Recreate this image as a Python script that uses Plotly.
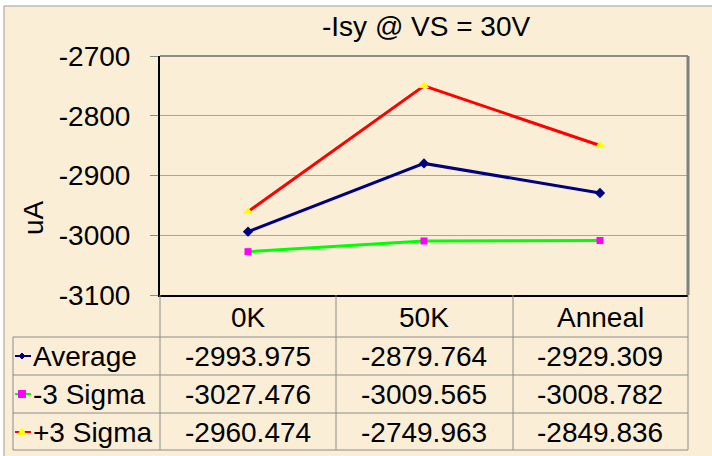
import plotly.graph_objects as go

categories = ["0K", "50K", "Anneal"]
average = [-2993.975, -2879.764, -2929.309]
minus3 = [-3027.476, -3009.565, -3008.782]
plus3 = [-2960.474, -2749.963, -2849.836]
series_names = ["Average", "-3 Sigma", "+3 Sigma"]
y_ticks = [-3100, -3000, -2900, -2800, -2700]

W, H = 712, 456
L, R, T, B = 160, 688, 56, 295
FONT = "Liberation Sans, Arial, sans-serif"
FS = 28


def px2x(x):
    return (x - L) / (R - L)


def px2y(y):
    return (B - y) / (B - T)


fig = go.Figure()
fig.add_trace(go.Scatter(x=categories, y=plus3, mode="lines+markers", name="+3 Sigma",
                         line=dict(color="#FF0000", width=3),
                         marker=dict(symbol="triangle-up", size=9, color="#FFFF00")))
fig.add_trace(go.Scatter(x=categories, y=average, mode="lines+markers", name="Average",
                         line=dict(color="#000080", width=3),
                         marker=dict(symbol="diamond", size=8, color="#000080")))
fig.add_trace(go.Scatter(x=categories, y=minus3, mode="lines+markers", name="-3 Sigma",
                         line=dict(color="#00FF00", width=3),
                         marker=dict(symbol="square", size=7, color="#FF00FF")))

shapes = []
# cream chart background
shapes.append(dict(type="rect", xref="paper", yref="paper", layer="below",
                   x0=px2x(4), x1=px2x(720), y0=px2y(470), y1=px2y(6),
                   fillcolor="#FAEFD6", line=dict(color="#A09A90", width=1)))
# plot border top and right
shapes.append(dict(type="line", xref="paper", yref="paper", x0=0, x1=1, y0=1, y1=1,
                   line=dict(color="#8C8C8C", width=2)))
shapes.append(dict(type="line", xref="paper", yref="paper", x0=1, x1=1, y0=0, y1=1,
                   line=dict(color="#808080", width=3)))
# table lines
gray = "#8C8C8C"
for yy in [337, 375, 413, 450]:
    shapes.append(dict(type="line", xref="paper", yref="paper", x0=px2x(13), x1=px2x(688),
                       y0=px2y(yy), y1=px2y(yy), line=dict(color=gray, width=1)))
for xx in [160, 336, 513, 688]:
    shapes.append(dict(type="line", xref="paper", yref="paper", x0=px2x(xx), x1=px2x(xx),
                       y0=px2y(295), y1=px2y(450), line=dict(color=gray, width=1)))
shapes.append(dict(type="line", xref="paper", yref="paper", x0=px2x(13), x1=px2x(13),
                   y0=px2y(337), y1=px2y(450), line=dict(color=gray, width=1)))

# legend keys in table
rows_y = [356, 394, 432]
key_colors = [("#000080", "#000080", "diamond"), ("#00FF00", "#FF00FF", "square"),
              ("#FF0000", "#FFFF00", "triangle")]
for (lc, mc, sym), yy in zip(key_colors, rows_y):
    shapes.append(dict(type="line", xref="paper", yref="paper", x0=px2x(15), x1=px2x(31),
                       y0=px2y(yy), y1=px2y(yy), line=dict(color=lc, width=2)))
    cx = 22
    if sym == "diamond":
        pts = [(cx, yy - 3), (cx + 3, yy), (cx, yy + 3), (cx - 3, yy)]
    elif sym == "square":
        pts = [(cx - 3.5, yy - 3.5), (cx + 3.5, yy - 3.5), (cx + 3.5, yy + 3.5), (cx - 3.5, yy + 3.5)]
    else:
        pts = [(cx, yy - 4), (cx + 4, yy + 2.5), (cx - 4, yy + 2.5)]
    path = "M " + " L ".join(f"{px2x(a):.5f},{px2y(b):.5f}" for a, b in pts) + " Z"
    shapes.append(dict(type="path", xref="paper", yref="paper", path=path,
                       fillcolor=mc, line=dict(color=mc, width=1)))

annotations = []
annotations.append(dict(text="-Isy @ VS = 30V", xref="paper", yref="paper", x=px2x(426), y=px2y(27),
                        showarrow=False, xanchor="center", yanchor="middle",
                        font=dict(family=FONT, size=FS, color="black")))
annotations.append(dict(text="uA", xref="paper", yref="paper", x=px2x(33), y=px2y(218),
                        showarrow=False, textangle=-90, xanchor="center", yanchor="middle",
                        font=dict(family=FONT, size=FS, color="black")))
for c in categories:
    annotations.append(dict(text=c, xref="x", yref="paper", x=c, y=px2y(317), showarrow=False,
                            xanchor="center", yanchor="middle",
                            font=dict(family=FONT, size=FS, color="black")))
for name, vals, yy in zip(series_names, [average, minus3, plus3], rows_y):
    annotations.append(dict(text=name, xref="paper", yref="paper", x=px2x(31), y=px2y(yy),
                            showarrow=False, xanchor="left", yanchor="middle",
                            font=dict(family=FONT, size=FS, color="black")))
    for c, v in zip(categories, vals):
        annotations.append(dict(text=f"{v:.3f}", xref="x", yref="paper", x=c, y=px2y(yy),
                                showarrow=False, xanchor="center", yanchor="middle",
                                font=dict(family=FONT, size=FS, color="black")))

fig.update_layout(
    width=W, height=H,
    margin=dict(l=L, r=W - R, t=T, b=H - B),
    paper_bgcolor="white", plot_bgcolor="white",
    showlegend=False,
    shapes=shapes, annotations=annotations,
    xaxis=dict(type="category", categoryorder="array", categoryarray=categories,
               range=[-0.5, 2.5], showticklabels=False, ticks="", showgrid=False,
               showline=True, linecolor="black", linewidth=2, zeroline=False, fixedrange=True),
    yaxis=dict(range=[-3100, -2700], tickvals=y_ticks, ticktext=[str(v) for v in y_ticks],
               ticks="outside", ticklen=8, tickcolor="#8C8C8C", tickwidth=1,
               ticklabelstandoff=14,
               tickfont=dict(family=FONT, size=FS, color="black"),
               showgrid=True, gridcolor="#A6A6A6", gridwidth=1,
               showline=True, linecolor="black", linewidth=2, zeroline=False, fixedrange=True),
)

fig.write_html("out.html", config={"displayModeBar": False},
               post_script="document.body.style.margin='0';document.body.style.padding='0';")
